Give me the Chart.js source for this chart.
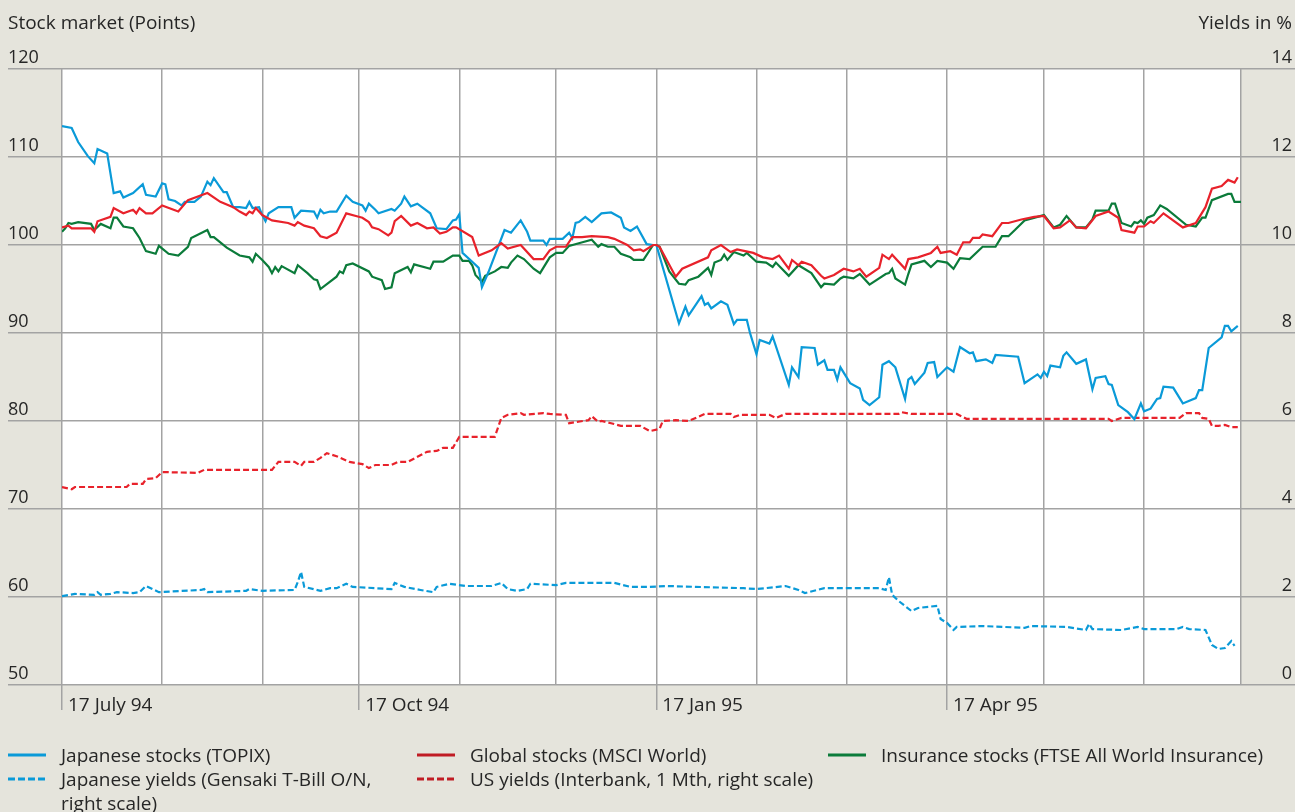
<!DOCTYPE html>
<html>
<head>
<meta charset="utf-8">
<script src="https://cdn.jsdelivr.net/npm/chart.js@4.4.1/dist/chart.umd.min.js"></script>
<style>
  html, body { margin: 0; padding: 0; background: #e5e4dc; }
  #wrap { position: relative; width: 1295px; height: 812px; background: #e5e4dc; font-family: "Open Sans", "Liberation Sans", sans-serif; color: #262626; overflow: hidden; }
  #c { position: absolute; left: 0; top: 0; }
  .title { position: absolute; top: 10px; font-size: 19px; line-height: 24px; white-space: nowrap; }
  .leg { position: absolute; font-size: 19px; line-height: 24px; white-space: nowrap; }
  .leg svg { position: absolute; left: 0; }
  .leg span { position: absolute; }
</style>
</head>
<body>
<div id="wrap">
  <canvas id="c" width="1295" height="812"></canvas>
  <div class="title" style="left:8px;">Stock market (Points)</div>
  <div class="title" style="right:3px;">Yields in %</div>
  <div id="legend"></div>
</div>
<script>
// ---- Data (x = days after 17 July 1994) ----
const monthTickDays = [0, 31, 62, 92, 123, 153, 184, 215, 243, 274, 304, 335, 365];
const labelTickDays = [0, 92, 184, 274];
const labelTickText = ["17 July 94", "17 Oct 94", "17 Jan 95", "17 Apr 95"];

const topixDays = [0,3,5,8,10,11,14,16,18,19,22,25,26,29,31,32,33,35,37,38,41,43,45,46,47,50,51,53,55,57,58,59,61,62,63,64,67,71,72,74,78,79,80,81,83,85,88,90,93,94,95,97,98,102,103,105,106,108,110,114,116,119,121,122,123,124,127,129,130,132,137,139,142,144,145,149,150,151,155,157,158,159,160,162,164,167,170,173,174,176,178,181,183,184,191,193,194,198,199,200,201,204,206,208,209,212,213,215,216,219,220,225,226,228,229,233,234,236,237,239,240,241,244,247,248,250,253,254,256,258,261,262,263,264,267,268,270,271,274,276,278,281,282,283,286,288,289,296,298,302,303,304,305,306,309,310,311,314,317,319,320,323,324,325,327,330,332,334,335,337,339,340,341,344,347,351,352,353,355,359,360,361,362,364];
const topixValues = [113.5,113.3,111.7,110.1,109.3,110.9,110.4,105.9,106.1,105.4,105.9,106.9,105.7,105.5,107.0,106.9,105.2,105.0,104.5,104.9,104.9,105.5,107.2,106.8,107.6,106.0,106.0,104.3,104.3,104.2,104.9,104.2,104.3,103.4,102.7,103.6,104.3,104.3,103.1,103.9,103.8,103.1,104.0,103.6,103.8,103.8,105.6,104.9,104.5,103.9,104.7,104.0,103.6,104.1,103.9,104.7,105.5,104.4,104.7,103.6,101.9,101.8,102.8,102.9,103.5,99.1,98.1,97.4,95.2,96.9,101.7,101.4,102.8,101.5,100.5,100.5,100.0,100.7,100.7,101.4,100.8,102.5,102.6,103.2,102.6,103.6,103.7,103.1,102.0,101.6,102.1,100.1,100.0,100.0,91.1,93.0,92.0,94.2,93.2,93.4,92.8,93.6,93.2,91.0,91.5,91.5,90.0,87.6,89.2,88.8,89.6,84.1,86.1,85.0,88.4,88.3,86.4,86.9,85.8,85.8,84.7,86.1,84.3,83.7,82.4,81.8,82.7,86.4,86.8,86.1,82.5,84.7,85.0,84.2,85.5,86.6,86.7,85.0,86.1,85.6,88.4,87.7,87.8,86.8,87.0,86.6,87.5,87.3,84.3,85.3,84.9,85.6,85.1,86.3,86.1,87.4,87.8,86.5,87.0,83.6,84.9,85.1,84.2,84.1,81.8,81.0,80.2,82.0,81.1,81.4,82.5,82.6,83.9,83.8,82.0,82.6,83.5,83.5,88.3,89.5,90.8,90.8,90.2,90.8];

const msciDays = [0,2,3,9,10,11,15,16,19,22,23,24,26,28,31,36,39,45,49,53,55,57,58,59,60,62,65,70,72,73,75,78,80,82,85,88,91,93,95,96,98,101,102,103,105,108,110,113,115,117,119,121,122,127,129,133,136,138,142,146,149,151,153,156,158,161,164,169,171,175,177,179,180,183,184,185,190,192,200,201,204,207,209,214,217,220,222,225,226,228,229,232,235,236,239,242,245,247,249,253,254,256,257,261,262,265,269,271,272,275,277,279,281,282,284,285,288,291,293,297,301,304,307,309,312,314,317,320,324,327,328,332,333,335,337,338,341,347,351,354,356,359,361,363,364];
const msciValues = [102.0,102.2,101.9,101.9,101.5,102.7,103.2,104.2,103.6,104.0,103.6,104.2,103.6,103.6,104.5,103.8,105.1,105.9,104.9,104.3,103.8,103.4,103.8,103.6,104.2,103.4,102.8,102.5,102.2,102.6,102.2,101.9,101.0,100.8,101.4,103.6,103.3,103.1,102.6,102.0,101.8,101.1,101.4,102.7,103.3,102.2,102.5,101.9,102.0,101.3,101.5,102.0,102.0,100.9,98.8,99.4,100.2,99.6,100.0,98.4,98.4,99.4,99.8,99.8,100.9,100.9,101.0,100.9,100.7,100.0,99.4,99.5,99.3,100.0,100.0,99.8,96.4,97.3,98.6,99.4,100.0,99.2,99.5,99.1,98.6,98.4,98.8,97.3,98.3,97.7,98.1,97.7,96.5,96.2,96.6,97.3,97.0,97.3,96.4,97.4,98.9,98.4,98.9,97.3,98.4,98.6,99.1,99.8,99.1,99.3,98.9,100.3,100.3,100.8,100.8,101.2,101.0,102.5,102.5,102.9,103.2,103.3,101.9,102.0,102.8,102.0,101.9,103.3,103.8,103.1,101.7,101.4,102.1,102.1,102.7,102.5,103.6,102.0,102.5,104.3,106.4,106.7,107.4,107.1,107.7];

const insurDays = [0,1,2,3,5,9,10,12,15,16,17,19,22,24,26,29,30,33,36,39,40,45,46,47,51,55,58,59,60,62,64,65,66,67,68,72,73,76,78,79,80,85,86,87,88,90,95,96,99,100,102,103,107,108,109,114,115,118,121,123,124,126,127,128,130,131,134,136,138,139,141,143,146,148,151,153,155,157,160,164,166,167,169,171,173,176,177,180,183,184,185,188,191,193,194,197,200,201,202,204,205,206,208,211,212,215,218,220,221,225,228,232,235,236,239,241,242,245,247,250,255,256,257,258,261,262,263,267,269,271,274,276,278,281,285,289,291,293,295,298,302,304,307,309,311,314,317,319,320,324,325,326,328,331,332,333,334,335,336,338,340,342,348,351,353,354,356,361,362,363,365];
const insurValues = [101.5,101.9,102.5,102.4,102.6,102.4,101.7,102.4,101.9,103.1,103.1,102.1,101.9,100.8,99.3,99.0,99.9,99.0,98.8,99.8,100.8,101.7,100.9,100.9,99.7,98.8,98.6,98.1,99.0,98.3,97.5,96.8,97.5,97.0,97.6,96.8,97.7,96.8,96.1,96.0,95.0,96.4,97.0,96.8,97.7,97.9,97.0,96.4,96.0,95.0,95.2,96.8,97.5,96.9,97.8,97.3,98.1,98.1,98.8,98.8,98.2,98.2,97.7,96.6,95.8,96.5,97.0,97.5,97.4,98.0,98.8,98.4,97.3,96.8,98.6,99.1,99.1,99.9,100.2,100.6,99.8,100.1,99.8,99.8,99.0,98.6,98.3,98.3,100.0,100.0,99.8,97.0,95.6,95.5,96.0,96.4,97.4,96.6,98.0,98.3,98.9,98.3,99.2,98.8,99.1,98.1,98.0,97.5,98.0,96.5,97.7,96.8,95.2,95.6,95.5,96.2,96.4,96.2,96.7,95.5,96.7,96.8,97.3,96.2,95.5,96.7,97.8,98.2,97.5,98.2,98.0,97.3,98.5,98.4,99.8,99.8,101.0,101.0,101.7,102.8,103.2,103.4,102.0,102.3,103.3,102.0,102.0,102.9,103.9,103.9,104.7,104.7,102.5,102.1,102.6,102.5,102.8,102.4,103.1,103.4,104.5,104.1,102.3,102.1,103.1,103.1,105.1,105.8,105.8,104.9,104.9];

const jpYieldDays = [0,4,10,11,12,15,17,22,24,26,28,30,43,44,45,57,58,62,72,73,74,75,80,83,85,88,90,102,103,106,111,115,116,120,125,133,136,138,141,144,145,153,156,171,176,182,187,211,215,224,228,230,236,253,255,256,257,259,263,265,271,272,274,276,277,285,298,300,311,317,318,319,328,333,335,345,347,349,354,356,358,360,362,363];
const jpYieldValues = [2.02,2.07,2.05,2.11,2.05,2.07,2.11,2.09,2.11,2.25,2.18,2.11,2.16,2.18,2.11,2.14,2.18,2.14,2.16,2.34,2.57,2.23,2.14,2.20,2.20,2.30,2.23,2.18,2.32,2.23,2.16,2.11,2.23,2.30,2.25,2.25,2.32,2.18,2.14,2.18,2.30,2.27,2.32,2.32,2.23,2.23,2.25,2.20,2.18,2.25,2.16,2.09,2.20,2.20,2.16,2.45,2.05,1.91,1.68,1.75,1.80,1.50,1.41,1.25,1.32,1.34,1.30,1.34,1.32,1.25,1.39,1.27,1.25,1.32,1.27,1.27,1.32,1.27,1.25,0.91,0.82,0.84,1.00,0.89];

const usYieldDays = [0,3,4,20,21,25,26,29,31,42,44,65,67,72,74,75,78,80,82,85,89,93,95,97,102,104,107,113,116,118,121,123,134,136,138,142,143,149,151,156,157,163,164,166,167,170,173,179,182,185,186,190,194,199,207,208,210,219,221,224,259,260,263,277,280,324,325,328,346,348,352,353,355,356,358,360,362,364];
const usYieldValues = [4.50,4.45,4.50,4.50,4.57,4.57,4.68,4.70,4.84,4.82,4.89,4.89,5.07,5.07,4.98,5.07,5.07,5.16,5.27,5.20,5.07,5.02,4.93,5.00,5.00,5.07,5.07,5.30,5.32,5.39,5.39,5.64,5.64,6.07,6.14,6.18,6.14,6.18,6.16,6.14,5.95,6.02,6.11,5.98,6.00,5.95,5.89,5.89,5.77,5.82,6.00,6.02,6.00,6.16,6.16,6.09,6.14,6.14,6.07,6.16,6.16,6.20,6.16,6.16,6.05,6.05,6.00,6.07,6.07,6.18,6.18,6.07,6.05,5.89,5.89,5.91,5.86,5.86];

// ---- Styles ----
const BLUE = '#0a9ad8', RED = '#e8222b', GREEN = '#0b7b3a';
const GRID = '#a3a3a3';
const TEXT = '#262626';
const FONT = { family: '"Open Sans", "Liberation Sans", sans-serif', size: 19 };
const NUMFONT = { family: '"Open Sans", "Liberation Sans", sans-serif', size: 18 };

const pts = (xs, ys) => xs.map((d, i) => ({ x: d, y: ys[i] }));

const series = [
  { label: 'Japanese yields (Gensaki T-Bill O/N, right scale)', days: jpYieldDays, vals: jpYieldValues, color: BLUE, legColor: BLUE, dash: [6, 3], axis: 'y2' },
  { label: 'US yields (Interbank, 1 Mth, right scale)', days: usYieldDays, vals: usYieldValues, color: RED, legColor: '#c01c24', dash: [6, 3], axis: 'y2' },
  { label: 'Insurance stocks (FTSE All World Insurance)', days: insurDays, vals: insurValues, color: GREEN, legColor: GREEN, dash: [], axis: 'y' },
  { label: 'Japanese stocks (TOPIX)', days: topixDays, vals: topixValues, color: BLUE, legColor: BLUE, dash: [], axis: 'y' },
  { label: 'Global stocks (MSCI World)', days: msciDays, vals: msciValues, color: RED, legColor: '#c01c24', dash: [], axis: 'y' },
];

const bgPlugin = {
  id: 'bg',
  beforeDraw(chart) {
    const { ctx, chartArea: a } = chart;
    ctx.save();
    ctx.fillStyle = '#e5e4dc';
    ctx.fillRect(0, 0, chart.width, chart.height);
    ctx.fillStyle = '#ffffff';
    ctx.fillRect(a.left, a.top, a.right - a.left, a.bottom - a.top);
    ctx.restore();
  }
};

new Chart(document.getElementById('c'), {
  type: 'line',
  data: {
    datasets: series.map((s, i) => ({
      label: s.label,
      data: pts(s.days, s.vals),
      borderColor: s.color,
      borderWidth: 2.2,
      borderDash: s.dash,
      yAxisID: s.axis,
      pointRadius: 0,
      tension: 0,
      fill: false,
      order: series.length - i
    }))
  },
  options: {
    responsive: false,
    animation: false,
    events: [],
    layout: { padding: { left: 8, right: 3, top: 69, bottom: 97 } },
    plugins: { legend: { display: false }, tooltip: { enabled: false }, title: { display: false } },
    scales: {
      x: {
        type: 'linear',
        min: 0, max: 365,
        afterBuildTicks: (s) => { s.ticks = monthTickDays.map(v => ({ value: v })); },
        afterFit: (s) => { s.height = 30; },
        border: { display: false },
        grid: {
          color: GRID, lineWidth: 1.5, drawTicks: true, tickLength: 25,
          tickColor: (c) => (c.tick && labelTickDays.includes(c.tick.value)) ? GRID : 'rgba(0,0,0,0)',
          tickWidth: 1.5
        },
        ticks: {
          autoSkip: false, maxRotation: 0, minRotation: 0,
          align: 'start', labelOffset: 6, padding: -16,
          color: TEXT, font: FONT,
          callback: (v) => { const k = labelTickDays.indexOf(v); return k >= 0 ? labelTickText[k] : ''; }
        }
      },
      y: {
        position: 'left',
        min: 50, max: 120,
        afterFit: (s) => { s.width = 54; },
        border: { display: false },
        grid: { color: GRID, lineWidth: 1.5, drawTicks: true, tickLength: 54 },
        ticks: { stepSize: 10, crossAlign: 'far', labelOffset: -11, padding: 0, color: TEXT, font: NUMFONT }
      },
      y2: {
        position: 'right',
        min: 0, max: 14,
        afterFit: (s) => { s.width = 51; },
        border: { display: false },
        grid: { color: GRID, lineWidth: 1.5, drawOnChartArea: false, drawTicks: true, tickLength: 54 },
        ticks: { stepSize: 2, crossAlign: 'far', labelOffset: -11, padding: 0, color: TEXT, font: NUMFONT }
      }
    }
  },
  plugins: [bgPlugin]
});

// ---- HTML legend ----
const legendItems = [
  { s: series[3], left: 8, top: 743, text: 'Japanese stocks (TOPIX)' },
  { s: series[0], left: 8, top: 767, text: 'Japanese yields (Gensaki T-Bill O/N,<br>right scale)' },
  { s: series[4], left: 417, top: 743, text: 'Global stocks (MSCI World)' },
  { s: series[1], left: 417, top: 767, text: 'US yields (Interbank, 1 Mth, right scale)' },
  { s: series[2], left: 828, top: 743, text: 'Insurance stocks (FTSE All World Insurance)' },
];
const legend = document.getElementById('legend');
legendItems.forEach(it => {
  const d = document.createElement('div');
  d.className = 'leg';
  d.style.left = it.left + 'px';
  d.style.top = it.top + 'px';
  const dash = it.s.dash.length ? 'stroke-dasharray="7,3"' : '';
  d.innerHTML = '<svg width="38" height="24" style="top:0"><line x1="0" y1="12" x2="38" y2="12" stroke="' + it.s.legColor + '" stroke-width="3" ' + dash + '/></svg>' +
                '<span style="left:53px;top:0">' + it.text + '</span>';
  legend.appendChild(d);
});
</script>
</body>
</html>
